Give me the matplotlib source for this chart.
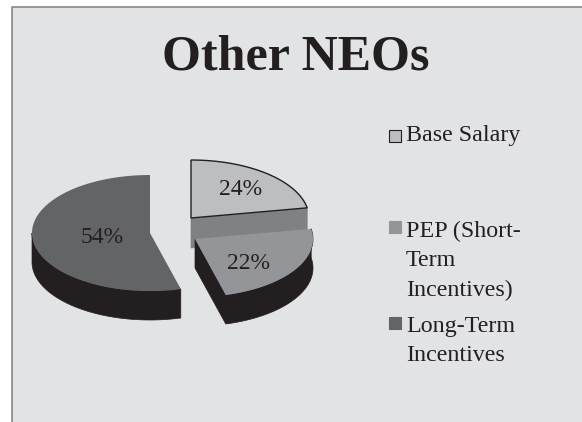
import numpy as np
import matplotlib
matplotlib.use('Agg')
import matplotlib.pyplot as plt
from matplotlib.patches import Polygon, Rectangle

title = "Other NEOs"
categories = ["Base Salary", "PEP (Short-\nTerm\nIncentives)", "Long-Term\nIncentives"]
# shares as drawn in the picture; the printed labels differ a little for the first two
drawn_shares = [22.2, 23.6, 54.2]
pct_labels = ["24%", "22%", "54%"]

top_colors = ['#bcbec0', '#939598', '#636466']
dark = '#231f20'
cut_color = '#808184'
bg = '#e2e3e5'

RX, RY = 118, 58
DEPTH = 29
centers = [(191, 218), (195, 239), (150, 233)]

plt.rcParams['font.family'] = ['Liberation Serif', 'DejaVu Serif']

edges = np.cumsum([0] + drawn_shares) * 3.6  # clockwise from 12 o'clock, degrees


def arc(c, a0, a1, n=80):
    t = np.radians(np.linspace(a0, a1, n))
    return np.column_stack([c[0] + RX * np.sin(t), c[1] - RY * np.cos(t)])


def wedge_top(ax, c, a0, a1, color, **kw):
    ax.add_patch(Polygon(np.vstack([[c], arc(c, a0, a1)]), closed=True, facecolor=color, **kw))


def wall(ax, pts, depth, color):
    low = pts[::-1] + [0, depth]
    ax.add_patch(Polygon(np.vstack([pts, low]), closed=True, facecolor=color, edgecolor=color, lw=0.5))


fig = plt.figure(figsize=(5.82, 4.22), dpi=100)
ax = fig.add_axes([0, 0, 1, 1])
ax.set_xlim(0, 582)
ax.set_ylim(422, 0)
ax.axis('off')

# panel with the grey top and left rule
ax.add_patch(Rectangle((12, 7), 570, 415, facecolor=bg, edgecolor='none'))
ax.plot([12, 12, 582], [422, 7, 7], color='#858688', lw=1.2)

ax.text(296, 69, title, ha='center', va='baseline', fontsize=36, fontweight='bold', color=dark)

# base salary: only the cut face shows below it
c = np.array(centers[0])
corner = arc(c, edges[1], edges[1], 1)[0]
wall(ax, np.array([c, corner]), DEPTH + 1, cut_color)
wedge_top(ax, c, edges[0], edges[1], top_colors[0], edgecolor=dark, lw=1)

# PEP, pulled out of the pie
c = np.array(centers[1])
wall(ax, np.vstack([[c], arc(c, edges[2], edges[1])]), DEPTH, dark)
wedge_top(ax, c, edges[1], edges[2], top_colors[1], edgecolor='none')

# long-term
c = np.array(centers[2])
wall(ax, arc(c, edges[2], 270), DEPTH, dark)
wedge_top(ax, c, edges[2], edges[3], top_colors[2], edgecolor='none')

label_xy = [(241, 195), (249, 269), (102, 243)]
for (x, y), s in zip(label_xy, pct_labels):
    ax.text(x, y, s, ha='center', va='baseline', fontsize=17, color=dark)

# legend
legend_y = [130, 221, 317]
text_base = [141, 237, 332]
for i, name in enumerate(categories):
    ec = dark if i == 0 else top_colors[i]
    ax.add_patch(Rectangle((389, legend_y[i]), 12, 12, facecolor=top_colors[i], edgecolor=ec, lw=0.8))
    for j, line in enumerate(name.split("\n")):
        ax.text(406, text_base[i] + j * 29.3, line, ha='left', va='baseline', fontsize=17.3, color=dark)

fig.savefig('out.png', dpi=100, facecolor='white')
